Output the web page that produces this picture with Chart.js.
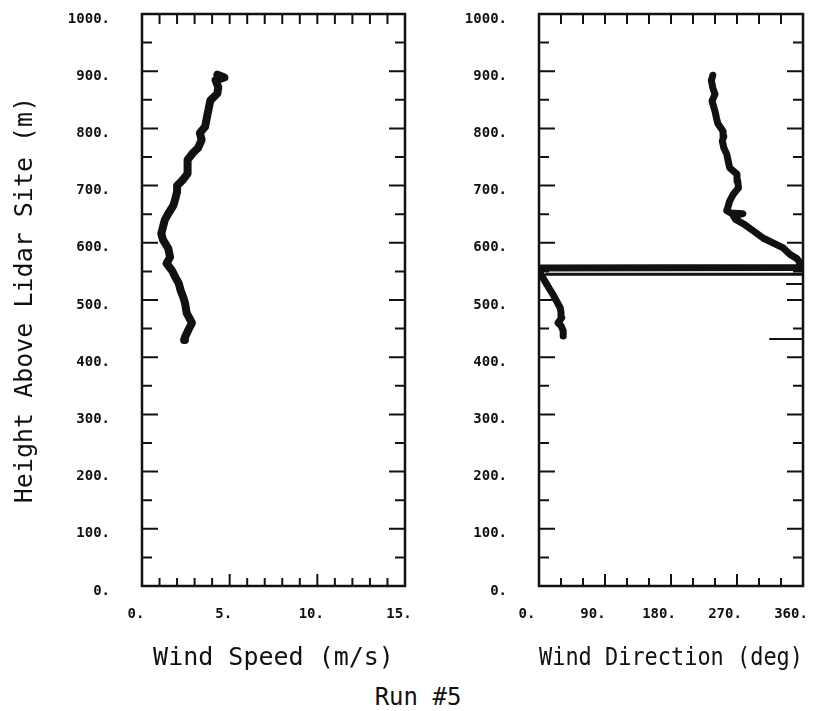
<!DOCTYPE html>
<html>
<head>
<meta charset="utf-8">
<script src="https://cdn.jsdelivr.net/npm/chart.js@4.4.0/dist/chart.umd.min.js"></script>
<style>
  html, body { margin: 0; padding: 0; background: #fff; }
  #wrap { position: relative; width: 836px; height: 711px; overflow: hidden; }
  canvas { position: absolute; top: 0; }
  #speedChart { left: 0; }
  #dirChart { left: 420px; }
  #run { position: absolute; left: 0; width: 836px; top: 682px; text-align: center;
         font: 24px 'DejaVu Sans Mono'; color: #111; line-height: 30px; }
</style>
</head>
<body>
<div id="wrap">
  <canvas id="speedChart" width="420" height="680" style="width:420px;height:680px"></canvas>
  <canvas id="dirChart" width="416" height="680" style="width:416px;height:680px"></canvas>
  <div id="run">Run #5</div>
</div>
<script>
// --- DATA ---
const speedHeights = [430, 435, 448, 460, 477, 495, 505, 517, 529, 540, 552, 564, 575, 590, 605, 616, 628, 640, 651, 666,
                      677, 689, 700, 709, 721, 733, 745, 757, 766, 780, 792, 803, 819, 834, 849, 861, 872, 884, 889, 894];
const speedValues  = [2.4, 2.45, 2.65, 2.85, 2.55, 2.45, 2.35, 2.2, 2.1, 1.9, 1.7, 1.4, 1.6, 1.5, 1.2, 1.1, 1.2, 1.3, 1.5, 1.8,
                      1.9, 2.0, 2.0, 2.3, 2.6, 2.6, 2.6, 2.9, 3.2, 3.4, 3.3, 3.6, 3.7, 3.8, 3.9, 4.3, 4.35, 4.2, 4.7, 4.3];

const dirHeights = [437, 446, 455, 460, 469, 478, 486, 498, 510, 520, 533, 542, 548, 556, 557, 565, 572, 580, 591, 600,
                    608, 621, 633, 641, 647, 651, 652, 656, 664, 673, 685, 696, 708, 720, 731, 743, 755, 766, 778, 786,
                    795, 808, 818, 830, 848, 860, 871, 884, 893];
const dirValues  = [33, 33, 30, 26, 31, 30, 29, 24, 19, 14, 8, 4, 1, 0, 360, 356, 352, 342, 333, 319,
                    306, 292, 279, 268, 265, 278, 262, 256, 258, 260, 265, 272, 271, 270, 260, 258, 256, 252, 250, 252,
                    251, 244, 242, 240, 236, 240, 237, 235, 237];

// short horizontal traces near the wrap-around
const wrapHeights = [545, 545];
const wrapValues  = [10, 360];
const stubHighHeights = [528, 528];
const stubHighValues  = [338, 360];
const stubLowHeights = [432, 432];
const stubLowValues  = [315, 360];

const speedTicks = [0, 5, 10, 15];
const dirTicks = [0, 90, 180, 270, 360];
const heightTicks = [0, 100, 200, 300, 400, 500, 600, 700, 800, 900, 1000];

const INK = '#111';
const tickFont = { family: 'DejaVu Sans Mono', size: 14, weight: 'bold' };
const titleFont = { family: 'DejaVu Sans Mono', size: 25, weight: 'normal' };

function toPoints(xs, ys) {
    return ys.map((h, i) => ({ x: xs[i], y: h }));
}

// --- PLUGIN: box frame + inward tick marks ---
const frameTicks = {
    id: 'frameTicks',
    afterDatasetsDraw(chart, args, opts) {
        const { ctx, chartArea: a, scales: { x, y } } = chart;
        ctx.save();
        ctx.strokeStyle = INK;
        ctx.lineWidth = 2.5;
        ctx.strokeRect(a.left, a.top, a.right - a.left, a.bottom - a.top);

        ctx.lineWidth = 2;
        ctx.beginPath();
        const nx = Math.round((x.max - x.min) / opts.xStep);
        for (let i = 1; i < nx; i++) {
            const v = x.min + i * opts.xStep;
            const px = x.getPixelForValue(v);
            const len = (v % opts.xMajor === 0) ? 12 : 8;
            ctx.moveTo(px, a.bottom); ctx.lineTo(px, a.bottom - len);
            ctx.moveTo(px, a.top); ctx.lineTo(px, a.top + 10);
        }
        const ny = Math.round((y.max - y.min) / 50);
        for (let i = 1; i < ny; i++) {
            const v = y.min + i * 50;
            const py = y.getPixelForValue(v);
            const len = (v % 100 === 0) ? 16 : 10;
            ctx.moveTo(a.left, py); ctx.lineTo(a.left + len, py);
            ctx.moveTo(a.right, py); ctx.lineTo(a.right - len, py);
        }
        ctx.stroke();
        ctx.restore();
    }
};

function lineSet(points, width) {
    return {
        data: points,
        showLine: true,
        borderColor: INK,
        backgroundColor: INK,
        borderWidth: width,
        pointRadius: 0,
        tension: 0,
        borderJoinStyle: 'round',
        borderCapStyle: 'round'
    };
}

function makeChart(id, cfg) {
    return new Chart(document.getElementById(id), {
        type: 'scatter',
        data: { datasets: cfg.datasets },
        options: {
            responsive: false,
            animation: false,
            layout: { padding: { top: 14, right: cfg.padRight, bottom: 0, left: 0 } },
            plugins: {
                legend: { display: false },
                tooltip: { enabled: false },
                frameTicks: { xStep: cfg.xStep, xMajor: cfg.xMajor }
            },
            scales: {
                x: {
                    type: 'linear',
                    min: cfg.xMin, max: cfg.xMax,
                    // fixed band under the plot; labels must not push the plot area
                    afterFit: s => { s.height = 94; s.paddingLeft = 0; s.paddingRight = 0; },
                    afterBuildTicks: s => { s.ticks = cfg.xTicks.map(v => ({ value: v })); },
                    grid: { display: false, drawTicks: false, tickLength: 0 },
                    border: { display: false },
                    ticks: {
                        color: INK, font: tickFont, padding: 20, maxRotation: 0,
                        labelOffset: cfg.xLabelOffset,
                        callback: v => v + '.'
                    },
                    title: {
                        display: true, text: cfg.xTitle, color: INK, font: titleFont,
                        padding: { top: 0, bottom: 7 }
                    }
                },
                y: {
                    type: 'linear',
                    min: 0, max: 1000,
                    afterFit: s => { s.width = cfg.yWidth; s.paddingTop = 0; s.paddingBottom = 0; },
                    afterBuildTicks: s => { s.ticks = heightTicks.map(v => ({ value: v })); },
                    grid: { display: false, drawTicks: false, tickLength: 0 },
                    border: { display: false },
                    ticks: {
                        color: INK, font: tickFont, padding: 32, labelOffset: 5,
                        callback: v => v + '.'
                    },
                    title: {
                        display: cfg.yTitle !== '', text: cfg.yTitle, color: INK, font: titleFont,
                        padding: { top: 10, bottom: 0 }
                    }
                }
            }
        },
        plugins: [frameTicks]
    });
}

makeChart('speedChart', {
    datasets: [lineSet(toPoints(speedValues, speedHeights), 8)],
    xMin: 0, xMax: 15, xStep: 1, xMajor: 5,
    xTicks: speedTicks, xLabelOffset: -6,
    xTitle: 'Wind Speed (m/s)',
    yTitle: 'Height Above Lidar Site (m)',
    yWidth: 142, padRight: 15
});

makeChart('dirChart', {
    datasets: [
        lineSet(toPoints(dirValues, dirHeights), 7),
        lineSet(toPoints(wrapValues, wrapHeights), 3),
        lineSet(toPoints(stubHighValues, stubHighHeights), 2),
        lineSet(toPoints(stubLowValues, stubLowHeights), 2)
    ],
    xMin: 0, xMax: 360, xStep: 30, xMajor: 90,
    xTicks: dirTicks, xLabelOffset: -12,
    xTitle: 'Wind Direction (deg)',
    yTitle: '',
    yWidth: 119, padRight: 33
});
</script>
</body>
</html>
